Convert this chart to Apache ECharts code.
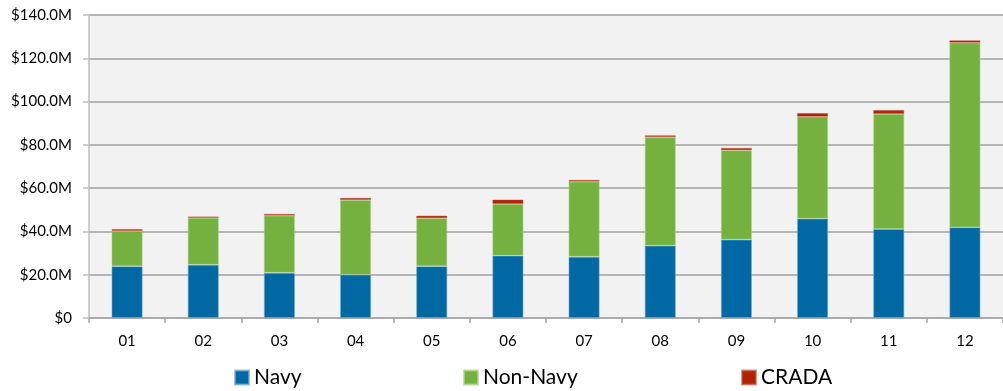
<!DOCTYPE html>
<html>
<head>
<meta charset="utf-8">
<script src="https://cdn.jsdelivr.net/npm/echarts@6/dist/echarts.min.js"></script>
<style>
  html, body { margin: 0; padding: 0; background: #ffffff; }
  #chart { width: 1003px; height: 391px; }
</style>
</head>
<body>
<div id="chart"></div>
<script>
// Funding by year, in millions of dollars
const years = ['01', '02', '03', '04', '05', '06', '07', '08', '09', '10', '11', '12'];
const navy    = [23.9, 24.6, 20.9, 20.0, 23.9, 28.8, 28.3, 33.4, 36.2, 45.9, 41.1, 41.9];
const nonNavy = [16.3, 21.7, 26.4, 34.5, 22.2, 23.9, 34.7, 50.2, 41.3, 47.1, 53.2, 85.3];
const crada   = [0.9, 0.6, 0.8, 1.0, 1.2, 2.0, 0.8, 0.8, 1.1, 1.7, 1.8, 1.1];
const seriesNames = ['Navy', 'Non-Navy', 'CRADA'];

const FONT = 'Lato, "Open Sans", sans-serif';

const chart = echarts.init(document.getElementById('chart'), null, { renderer: 'canvas' });

function barSeries(name, data, color, edge) {
  return {
    name: name,
    type: 'bar',
    stack: 'total',
    data: data,
    barWidth: 31,
    itemStyle: { color: color, borderColor: edge, borderWidth: 0.8 },
    emphasis: { disabled: true }
  };
}

// one legend block per series, spaced along the bottom
const legendLefts = [234, 463, 741];
const legends = seriesNames.map((name, i) => ({
  data: [name],
  left: legendLefts[i], top: 367,
  padding: 0,
  itemWidth: 14, itemHeight: 14,
  icon: 'rect',
  textStyle: { fontFamily: FONT, fontSize: 21, color: '#000000', padding: [3, 0, 0, 0] },
  selectedMode: false
}));

chart.setOption({
  animation: false,
  backgroundColor: '#ffffff',
  textStyle: { fontFamily: FONT },
  grid: {
    left: 89, top: 15, bottom: 73, right: -5,
    show: true, backgroundColor: '#F2F2F2', borderWidth: 0
  },
  legend: legends,
  xAxis: {
    type: 'category',
    data: years,
    axisLine: { lineStyle: { color: '#A6A6A6', width: 1.5 } },
    axisTick: { show: true, length: 5, lineStyle: { color: '#A6A6A6', width: 1.5 } },
    axisLabel: { fontFamily: FONT, fontSize: 15, color: '#000000', margin: 16 }
  },
  yAxis: {
    type: 'value',
    min: 0, max: 140, interval: 20,
    axisLine: { show: true, lineStyle: { color: '#BFBFBF', width: 1.5 } },
    axisTick: { show: true, length: 6, lineStyle: { color: '#BFBFBF', width: 1.5 } },
    splitLine: { lineStyle: { color: '#A0A0A0', width: 1.5 } },
    axisLabel: {
      fontFamily: FONT, fontSize: 15, color: '#000000', margin: 17,
      formatter: v => v === 0 ? '$0' : '$' + v.toFixed(1) + 'M'
    }
  },
  series: [
    barSeries('Navy', navy, '#0068A3', 'rgba(120,175,210,0.7)'),
    barSeries('Non-Navy', nonNavy, '#75B13F', 'rgba(175,215,140,0.7)'),
    barSeries('CRADA', crada, '#B22100', 'rgba(200,90,70,0.6)')
  ]
});
</script>
</body>
</html>
